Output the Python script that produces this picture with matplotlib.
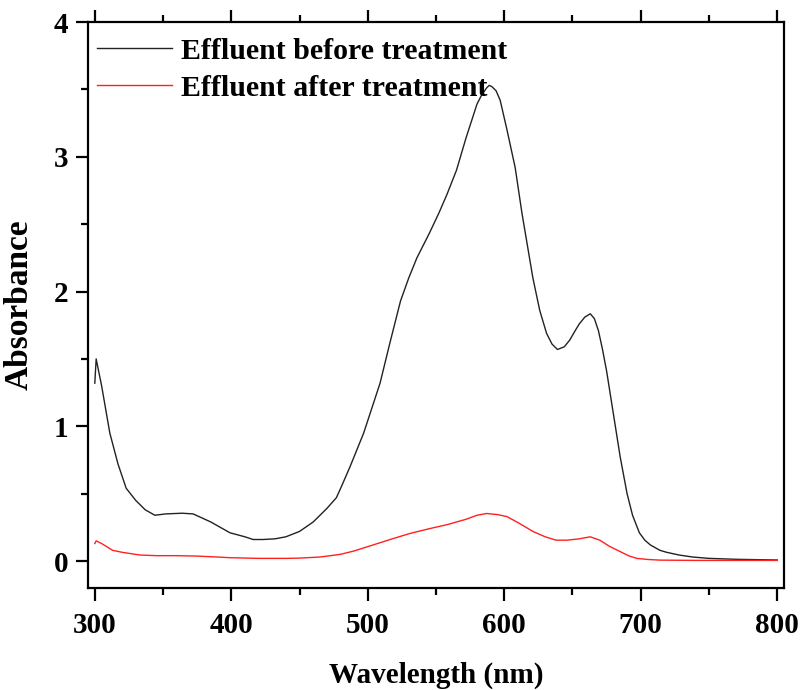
import numpy as np
import matplotlib.pyplot as plt
from matplotlib.ticker import MultipleLocator

# espectro UV-Vis
wl_before = [300, 301, 305, 311, 317, 323, 330, 337, 344, 352, 364, 372, 385, 399, 410,
             416, 423, 432, 440, 450, 460, 470, 477, 481, 487, 497, 509, 516, 524, 530,
             536, 545, 552, 558, 565, 572, 580, 583, 587, 589, 591, 594, 597, 602, 608,
             613, 617, 621, 626, 631, 635, 639, 644, 648, 652, 655, 659, 663, 666, 669,
             672, 675, 680, 685, 690, 694, 699, 703, 707, 714, 719, 728, 738, 750, 770, 800]
abs_before = [1.32, 1.50, 1.30, 0.95, 0.72, 0.54, 0.45, 0.38, 0.34, 0.35, 0.355, 0.35, 0.29, 0.21, 0.18,
              0.16, 0.16, 0.165, 0.18, 0.22, 0.29, 0.39, 0.47, 0.56, 0.70, 0.95, 1.32, 1.61, 1.93, 2.10,
              2.25, 2.43, 2.58, 2.72, 2.90, 3.14, 3.39, 3.45, 3.51, 3.53, 3.52, 3.49, 3.42, 3.20, 2.92,
              2.58, 2.34, 2.10, 1.86, 1.69, 1.61, 1.57, 1.59, 1.64, 1.71, 1.76, 1.81, 1.835, 1.80, 1.71,
              1.57, 1.41, 1.09, 0.77, 0.50, 0.34, 0.21, 0.155, 0.12, 0.08, 0.065, 0.045, 0.03, 0.02, 0.013, 0.008]

wl_after = [300, 301, 305, 313, 320, 333, 345, 360, 375, 390, 399, 420, 440, 450, 465, 480,
            490, 504, 518, 531, 545, 558, 572, 580, 587, 595, 602, 611, 621, 630, 638,
            646, 655, 663, 670, 677, 685, 691, 697, 705, 714, 740, 770, 800]
abs_after = [0.13, 0.15, 0.13, 0.08, 0.065, 0.045, 0.04, 0.04, 0.037, 0.03, 0.025, 0.02, 0.02, 0.022, 0.03, 0.05,
             0.075, 0.12, 0.165, 0.205, 0.24, 0.27, 0.31, 0.34, 0.353, 0.345, 0.33, 0.28, 0.22, 0.18, 0.155,
             0.155, 0.165, 0.18, 0.155, 0.11, 0.07, 0.04, 0.02, 0.012, 0.007, 0.005, 0.005, 0.005]

plt.rcParams['font.family'] = ['Liberation Serif', 'DejaVu Serif']
plt.rcParams['font.weight'] = 'bold'

fig = plt.figure(figsize=(8.02, 6.9), dpi=100)
ax = fig.add_axes([0.1097, 0.1478, 0.8679, 0.8203])

ax.plot(wl_before, abs_before, color='#222222', lw=1.0, label='Effluent before treatment')
ax.plot(wl_after, abs_after, color='#ff2020', lw=1.0, label='Effluent after treatment')

ax.set_xlim(295, 805)
ax.set_ylim(-0.2, 4)
ax.xaxis.set_major_locator(MultipleLocator(100))
ax.xaxis.set_minor_locator(MultipleLocator(50))
ax.yaxis.set_major_locator(MultipleLocator(1))
ax.yaxis.set_minor_locator(MultipleLocator(0.5))

ax.tick_params(axis='x', which='both', direction='out', top=True, bottom=True,
               labelsize=21, pad=8)
ax.tick_params(axis='y', which='both', direction='out', left=True, right=False,
               labelsize=21, pad=5)
ax.tick_params(which='major', length=9, width=1.6)
ax.tick_params(which='minor', length=5, width=1.6)
for s in ax.spines.values():
    s.set_linewidth(1.6)
for lbl in ax.get_xticklabels() + ax.get_yticklabels():
    lbl.set_fontweight('bold')

ax.set_xlabel('Wavelength (nm)', fontsize=21, fontweight='bold')
ax.set_ylabel('Absorbance', fontsize=24, fontweight='bold')
ax.xaxis.set_label_coords(0.5, -0.130)
ax.yaxis.set_label_coords(-0.076, 0.5)

leg = ax.legend(loc='upper left', frameon=False, prop={'size': 21.5, 'weight': 'bold'},
                handlelength=2.5, handletextpad=0.3, labelspacing=0.33,
                borderaxespad=0, borderpad=0.3, bbox_to_anchor=(0.0, 0.988))

fig.savefig('out.png', dpi=100)
